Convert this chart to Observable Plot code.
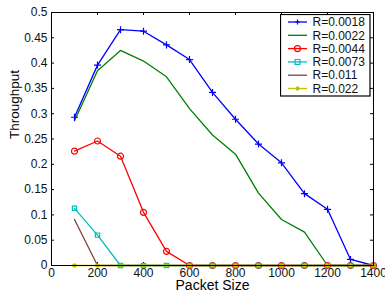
<!DOCTYPE html>
<html>
<head>
<meta charset="utf-8">
<script src="https://cdn.jsdelivr.net/npm/d3@7"></script>
<script src="https://cdn.jsdelivr.net/npm/@observablehq/plot@0.6"></script>
<style>
  html, body { margin: 0; padding: 0; background: #fff; }
  #wrap { position: relative; width: 385px; height: 297px; font-family: "Liberation Sans", Arial, sans-serif; overflow: hidden; }
  #legend { position: absolute; left: 280px; top: 14px; }
</style>
</head>
<body>
<div id="wrap"></div>
<script>
// ---- data ----
const packetSize = [100, 200, 300, 400, 500, 600, 700, 800, 900, 1000, 1100, 1200, 1300, 1400];
const seriesNames = ["R=0.0018", "R=0.0022", "R=0.0044", "R=0.0073", "R=0.011", "R=0.022"];
const r0018 = [0.293, 0.396, 0.466, 0.463, 0.436, 0.407, 0.342, 0.289, 0.240, 0.203, 0.142, 0.111, 0.012, 0];
const r0022 = [0.286, 0.385, 0.425, 0.404, 0.373, 0.310, 0.258, 0.220, 0.143, 0.091, 0.066, 0, 0, 0];
const r0044 = [0.226, 0.246, 0.216, 0.105, 0.028, 0, 0, 0, 0, 0, 0, 0, 0, 0];
const r0073 = [0.113, 0.060, 0, 0, 0, 0, 0, 0, 0, 0, 0, 0, 0, 0];
const r011  = [0.091, 0, 0, 0, 0, 0, 0, 0, 0, 0, 0, 0, 0, 0];
const r022  = [0, 0, 0, 0, 0, 0, 0, 0, 0, 0, 0, 0, 0, 0];
const xTicks = [0, 200, 400, 600, 800, 1000, 1200, 1400];
const yTicks = [0, 0.05, 0.1, 0.15, 0.2, 0.25, 0.3, 0.35, 0.4, 0.45, 0.5];
const xLabel = "Packet Size";
const yLabel = "Throughput";

// ---- styles ----
const seriesColors = ["#0000ff", "#008000", "#ff0000", "#00bfbf", "#7f3f3f", "#bfbf00"];
const seriesSymbols = ["plus", null, "circle", "square", null, "asterisk"];
const symbolSizes = {plus: 2.4, circle: 3, square: 2.4, asterisk: 2.2};

const seriesValues = [r0018, r0022, r0044, r0073, r011, r022];
const data = seriesNames.flatMap((name, i) =>
  packetSize.map((x, j) => ({series: name, x, y: seriesValues[i][j]}))
);

const W = 385, H = 297, mL = 51, mR = 12, mT = 12, mB = 32;
const innerH = H - mT - mB, innerW = W - mL - mR;
const tickLen = 3;

const marks = [
  Plot.axisX({ticks: xTicks, tickSize: 0, tickPadding: 3, label: null, fontSize: 12, tickFormat: d => String(d)}),
  Plot.axisY({ticks: yTicks, tickSize: 0, tickPadding: 4, label: null, fontSize: 12,
    tickFormat: d => String(+d.toFixed(2))}),
  // inward ticks on all four sides
  Plot.tickX(xTicks, {x: d => d, insetTop: innerH - tickLen, stroke: "#000", strokeWidth: 1}),
  Plot.tickX(xTicks, {x: d => d, insetBottom: innerH - tickLen, stroke: "#000", strokeWidth: 1}),
  Plot.tickY(yTicks, {y: d => d, insetRight: innerW - tickLen, stroke: "#000", strokeWidth: 1}),
  Plot.tickY(yTicks, {y: d => d, insetLeft: innerW - tickLen, stroke: "#000", strokeWidth: 1}),
  Plot.line(data, {x: "x", y: "y", z: "series", stroke: "series", strokeWidth: 1.3}),
];
seriesNames.forEach((name, i) => {
  const sym = seriesSymbols[i];
  if (!sym) return;
  marks.push(Plot.dot(data.filter(d => d.series === name), {
    x: "x", y: "y", symbol: () => sym, r: symbolSizes[sym],
    stroke: seriesColors[i], fill: "none", strokeWidth: sym === "asterisk" ? 1.6 : 1.2
  }));
});
marks.push(Plot.frame({stroke: "#000", strokeWidth: 1}));
marks.push(Plot.text([yLabel], {frameAnchor: "left", rotate: -90, dx: -37, fontSize: 13.5, fill: "#000"}));
marks.push(Plot.text([xLabel], {frameAnchor: "bottom", dy: 24, fontSize: 14, fill: "#000"}));

const chart = Plot.plot({
  width: W, height: H,
  marginLeft: mL, marginRight: mR, marginTop: mT, marginBottom: mB,
  x: {domain: [0, 1400]},
  y: {domain: [0, 0.5]},
  color: {domain: seriesNames, range: seriesColors},
  symbol: {domain: ["plus", "circle", "square", "asterisk"], range: ["plus", "circle", "square", "asterisk"]},
  style: {fontFamily: "Liberation Sans, Arial, sans-serif", fontSize: "12px", color: "#111", background: "#fff", overflow: "visible"},
  marks
});
const wrap = document.getElementById("wrap");
wrap.appendChild(chart);

// ---- legend ----
const lw = 91, lh = 83, rowH = 13.3, firstRow = 8;
const leg = d3.select(wrap).append("svg").attr("id", "legend")
  .attr("width", lw).attr("height", lh)
  .style("font-family", "Liberation Sans, Arial, sans-serif");
leg.append("rect").attr("x", 0.5).attr("y", 0.5).attr("width", lw - 1.5).attr("height", lh - 1.5)
  .attr("fill", "#fff").attr("stroke", "#000").attr("stroke-width", 1.2);
seriesNames.forEach((name, i) => {
  const cy = firstRow + i * rowH;
  const cx = 17.5;
  const g = leg.append("g");
  g.append("line").attr("x1", 8).attr("x2", 27).attr("y1", cy).attr("y2", cy)
    .attr("stroke", seriesColors[i]).attr("stroke-width", 1.3);
  const sym = seriesSymbols[i];
  if (sym) {
    const sz = symbolSizes[sym];
    const p = d3.path();
    if (sym === "plus") { p.moveTo(cx - sz, cy); p.lineTo(cx + sz, cy); p.moveTo(cx, cy - sz); p.lineTo(cx, cy + sz); }
    else if (sym === "circle") { p.moveTo(cx + sz, cy); p.arc(cx, cy, sz, 0, 2 * Math.PI); }
    else if (sym === "square") { p.rect(cx - sz, cy - sz, sz * 2, sz * 2); }
    else { const s = sz; p.moveTo(cx - s, cy); p.lineTo(cx + s, cy); p.moveTo(cx, cy - s); p.lineTo(cx, cy + s);
      p.moveTo(cx - s * 0.7, cy - s * 0.7); p.lineTo(cx + s * 0.7, cy + s * 0.7);
      p.moveTo(cx - s * 0.7, cy + s * 0.7); p.lineTo(cx + s * 0.7, cy - s * 0.7); }
    g.append("path").attr("d", p.toString()).attr("fill", "none")
      .attr("stroke", seriesColors[i]).attr("stroke-width", 1.2);
  }
  g.append("text").attr("x", 32.5).attr("y", cy).attr("dy", "0.35em")
    .attr("font-size", 12).attr("fill", "#111").text(name);
});
</script>
</body>
</html>
